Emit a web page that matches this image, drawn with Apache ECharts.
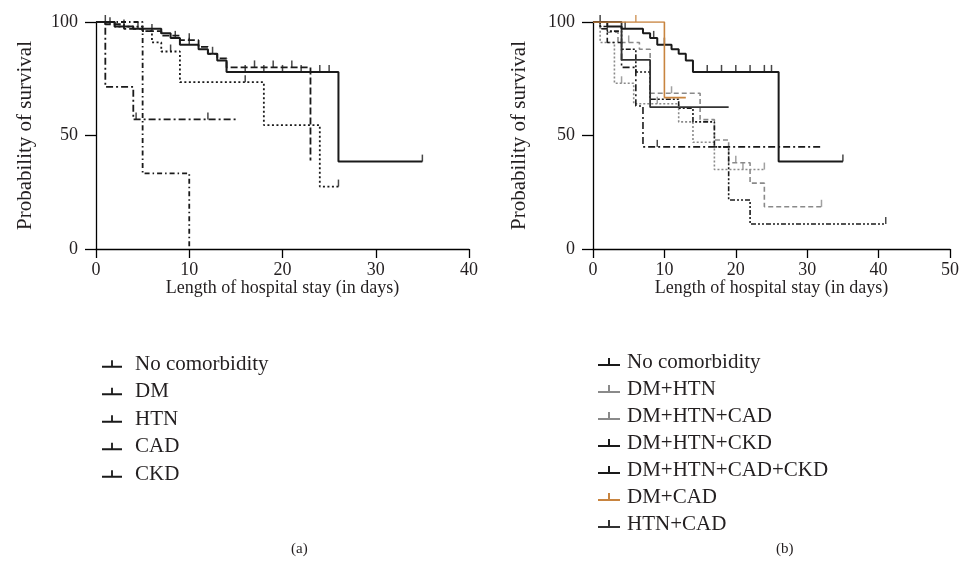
<!DOCTYPE html>
<html>
<head>
<meta charset="utf-8">
<script src="https://cdn.jsdelivr.net/npm/echarts@6/dist/echarts.min.js"></script>
<style>
html, body { margin: 0; padding: 0; background: #fff; }
#main { width: 962px; height: 571px; }
</style>
</head>
<body>
<div id="main"></div>
<script>
// ---- data (days, survival %) ----
const yTicks = [0, 50, 100];

// panel (a)
const noComDays = [0, 2, 4, 7, 8, 9, 11, 12, 13, 14, 26, 35];
const noComSurv = [100, 98, 97, 95, 93, 90, 88, 86, 83, 78, 38.5, 38.5];
const noComCens = [1, 4.5, 8.5, 10, 16, 18, 20, 22, 24, 25, 35];

const dmDays = [0, 1, 3, 5, 7, 9, 11, 12, 13, 14, 23];
const dmSurv = [100, 99, 97, 96, 94, 92, 89, 86, 84, 80, 39];
const dmCens = [1.5, 6, 10, 12.5, 17, 19, 21];

const htnDays = [0, 2, 5, 6, 7, 9, 18, 24, 26];
const htnSurv = [100, 98, 96, 91, 87, 73.5, 54.6, 27.5, 27.5];
const htnCens = [3, 8, 16, 26];

const cadDays = [0, 1, 4, 15];
const cadSurv = [100, 71.4, 57.1, 57.1];
const cadCens = [4.3, 12];

const ckdDays = [0, 5, 10];
const ckdSurv = [100, 33.3, 0];

// panel (b)
const dmHtnDays = [0, 1, 2, 3.5, 6.5, 8, 15, 17, 19, 22, 24, 32];
const dmHtnSurv = [100, 97, 95.5, 91, 88, 68.6, 57, 48, 38, 29, 18.6, 18.6];
const dmHtnCens = [5, 11, 20, 32];

const dmHtnCadDays = [0, 1, 3, 5.7, 12, 14, 17, 24];
const dmHtnCadSurv = [100, 91, 73, 64, 56, 47, 35, 35];
const dmHtnCadCens = [4, 9, 21, 24];

const dmHtnCkdDays = [0, 1, 2, 4, 6, 7, 32];
const dmHtnCkdSurv = [100, 97, 91, 80, 63, 45, 45];
const dmHtnCkdCens = [9];

const dmHtnCadCkdDays = [0, 1, 2, 4, 6, 8, 12, 14, 17, 19, 22, 41];
const dmHtnCadCkdSurv = [100, 98, 96, 88, 78, 66, 62, 56, 45, 21.6, 11, 11];
const dmHtnCadCkdCens = [41];

const dmCadDays = [0, 10, 13];
const dmCadSurv = [100, 66.7, 66.7];
const dmCadCens = [6];

const htnCadDays = [0, 4, 8, 19];
const htnCadSurv = [100, 83.3, 62.5, 62.5];

// ---- helpers ----
function pairs(d, s) {
    return d.map((t, i) => [t, s[i]]);
}
function survAt(d, s, t) {
    var v = s[0];
    for (var i = 0; i < d.length; i++) {
        if (d[i] <= t) v = s[i];
    }
    return v;
}
function censPairs(d, s, cens) {
    return cens.map(t => [t, survAt(d, s, t)]);
}

const serif = '"Liberation Serif", "DejaVu Serif", serif';
const txt = '#231f20';

function curve(name, d, s, color, type, width, gi) {
    return {
        type: 'line',
        name: name,
        xAxisIndex: gi,
        yAxisIndex: gi,
        step: 'end',
        symbol: 'none',
        data: pairs(d, s),
        itemStyle: { color: color },
        lineStyle: { color: color, type: type, width: width },
        animation: false,
        silent: true
    };
}
function ticks(d, s, cens, color, gi) {
    return {
        type: 'scatter',
        xAxisIndex: gi,
        yAxisIndex: gi,
        symbol: 'rect',
        symbolSize: [1.5, 7],
        symbolOffset: [0, -3.5],
        itemStyle: { color: color },
        data: censPairs(d, s, cens),
        animation: false,
        silent: true
    };
}

function xAxis(gi, max) {
    return {
        type: 'value',
        gridIndex: gi,
        min: 0,
        max: max,
        interval: 10,
        name: 'Length of hospital stay (in days)',
        nameLocation: 'middle',
        nameGap: 30,
        nameMoveOverlap: false,
        nameTextStyle: { fontFamily: serif, fontSize: 18, color: txt },
        axisLine: { show: true, lineStyle: { color: '#000', width: 1.3 } },
        axisTick: { show: true, length: 9, lineStyle: { color: '#000', width: 1.3 } },
        axisLabel: { fontFamily: serif, fontSize: 18, color: txt, margin: 12 },
        splitLine: { show: false }
    };
}
function yAxis(gi, gap) {
    return {
        type: 'value',
        gridIndex: gi,
        min: 0,
        max: 100,
        interval: 50,
        name: 'Probability of survival',
        nameLocation: 'middle',
        nameGap: gap,
        nameTextStyle: { fontFamily: serif, fontSize: 21, color: txt },
        axisLine: { show: true, lineStyle: { color: '#000', width: 1.3 } },
        axisTick: { show: true, length: 11, lineStyle: { color: '#000', width: 1.3 } },
        axisLabel: { fontFamily: serif, fontSize: 18, color: txt, margin: 18 },
        splitLine: { show: false }
    };
}

const black = '#1a1a1a';
const gray = '#8a8a8a';
const orange = '#c8843f';

const legendIcon = 'path://M0,8h22v2h-22z M10,2h2v6h-2z';

var myChart = echarts.init(document.getElementById('main'));
var option = {
    backgroundColor: '#fff',
    grid: [
        { left: 96, top: 22, width: 373, height: 227 },
        { left: 593, top: 22, width: 358, height: 227 }
    ],
    xAxis: [xAxis(0, 40), xAxis(1, 50)],
    yAxis: [yAxis(0, 60), yAxis(1, 63)],
    legend: [
        {
            orient: 'vertical',
            left: 97,
            top: 348,
            itemWidth: 20,
            itemHeight: 8,
            itemGap: 5.5,
            icon: legendIcon,
            textStyle: { fontFamily: serif, fontSize: 21, color: txt, lineHeight: 22, padding: [0, 0, 0, 8] },
            data: ['No comorbidity', 'DM', 'HTN', 'CAD', 'CKD'],
            selectedMode: false
        },
        {
            orient: 'vertical',
            left: 593,
            top: 346,
            itemWidth: 22,
            itemHeight: 8,
            itemGap: 5,
            icon: legendIcon,
            textStyle: { fontFamily: serif, fontSize: 21, color: txt, lineHeight: 22, padding: [0, 0, 0, 2] },
            data: ['No comorbidity ', 'DM+HTN', 'DM+HTN+CAD', 'DM+HTN+CKD', 'DM+HTN+CAD+CKD', 'DM+CAD', 'HTN+CAD'],
            selectedMode: false
        }
    ],
    graphic: [
        { type: 'text', left: 291, top: 542, style: { text: '(a)', font: '15px ' + serif, fill: txt } },
        { type: 'text', left: 776, top: 542, style: { text: '(b)', font: '15px ' + serif, fill: txt } }
    ],
    series: [
        // panel (a)
        curve('CKD', ckdDays, ckdSurv, black, [5, 3, 1.5, 3], 1.8, 0),
        curve('CAD', cadDays, cadSurv, black, [7, 3, 2, 3], 1.8, 0),
        ticks(cadDays, cadSurv, cadCens, black, 0),
        curve('HTN', htnDays, htnSurv, black, [2, 2.5], 1.8, 0),
        ticks(htnDays, htnSurv, htnCens, black, 0),
        curve('DM', dmDays, dmSurv, black, [7, 3], 1.8, 0),
        ticks(dmDays, dmSurv, dmCens, black, 0),
        curve('No comorbidity', noComDays, noComSurv, black, 'solid', 2, 0),
        ticks(noComDays, noComSurv, noComCens, black, 0),
        // panel (b)
        curve('DM+HTN', dmHtnDays, dmHtnSurv, gray, [5, 3], 1.6, 1),
        ticks(dmHtnDays, dmHtnSurv, dmHtnCens, gray, 1),
        curve('DM+HTN+CAD', dmHtnCadDays, dmHtnCadSurv, gray, [2, 2], 1.6, 1),
        ticks(dmHtnCadDays, dmHtnCadSurv, dmHtnCadCens, gray, 1),
        curve('DM+HTN+CKD', dmHtnCkdDays, dmHtnCkdSurv, black, [7, 3, 2, 3], 1.6, 1),
        ticks(dmHtnCkdDays, dmHtnCkdSurv, dmHtnCkdCens, black, 1),
        curve('DM+HTN+CAD+CKD', dmHtnCadCkdDays, dmHtnCadCkdSurv, black, [5, 2, 2, 2, 2, 2], 1.6, 1),
        ticks(dmHtnCadCkdDays, dmHtnCadCkdSurv, dmHtnCadCkdCens, black, 1),
        curve('HTN+CAD', htnCadDays, htnCadSurv, '#333', 'solid', 1.8, 1),
        curve('No comorbidity ', noComDays, noComSurv, black, 'solid', 2, 1),
        ticks(noComDays, noComSurv, noComCens, black, 1),
        curve('DM+CAD', dmCadDays, dmCadSurv, orange, 'solid', 1.6, 1),
        ticks(dmCadDays, dmCadSurv, dmCadCens, orange, 1)
    ]
};
option && myChart.setOption(option);
</script>
</body>
</html>
